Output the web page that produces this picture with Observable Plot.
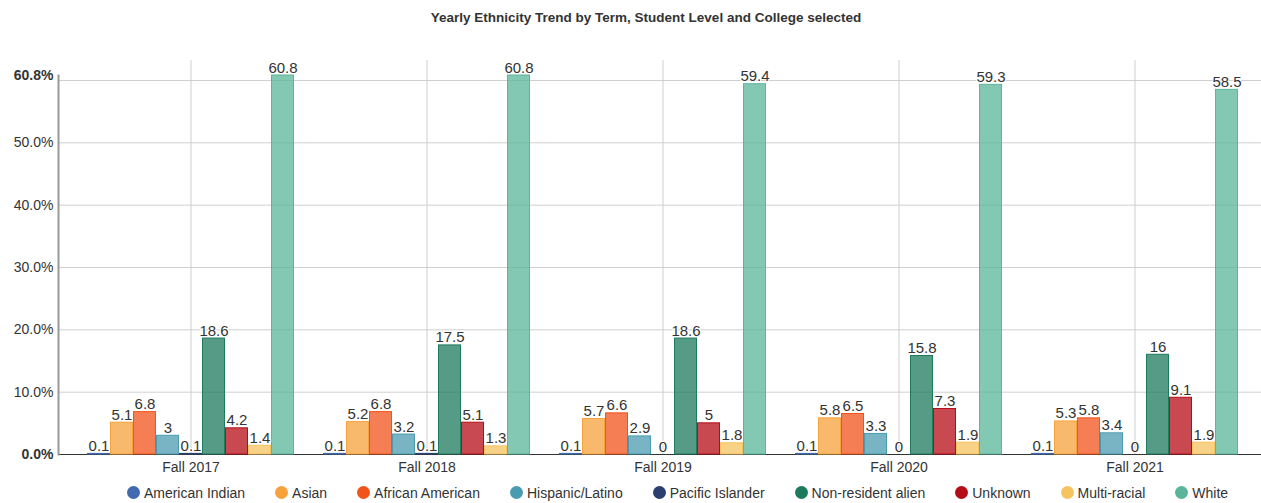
<!DOCTYPE html>
<html>
<head>
<meta charset="utf-8">
<script src="https://cdn.jsdelivr.net/npm/d3@7"></script>
<script src="https://cdn.jsdelivr.net/npm/@observablehq/plot@0.6"></script>
<style>
  body { margin: 0; background: #fff; font-family: "Liberation Sans", Arial, sans-serif; overflow: hidden; }
  #title { height: 36px; line-height: 36px; text-align: center; padding-left: 31px; font-size: 13.5px; font-weight: bold; color: #333; }
  #chart { position: relative; width: 1261px; height: 446px; }
  #chart svg { position: absolute; left: 0; top: 0; }
  #legend { display: flex; justify-content: center; align-items: center; height: 21px; padding-left: 94px; font-size: 14px; color: #333; gap: 30px; }
  .item { display: flex; align-items: center; gap: 4px; white-space: nowrap; }
  .sw { width: 13px; height: 13px; border-radius: 50%; }
</style>
</head>
<body>
<div id="title">Yearly Ethnicity Trend by Term, Student Level and College selected</div>
<div id="chart"></div>
<div id="legend"></div>
<script>
// Terms on the x axis and the ethnic groups inside each term
const terms = ["Fall 2017", "Fall 2018", "Fall 2019", "Fall 2020", "Fall 2021"];
const ethnicities = ["American Indian", "Asian", "African American", "Hispanic/Latino", "Pacific Islander",
                     "Non-resident alien", "Unknown", "Multi-racial", "White"];
const colors = ["#4169b0", "#f7a23b", "#f2531b", "#4b9bb0", "#2b3f6f", "#1d7a5d", "#b50d16", "#f5c35f", "#5ab59a"];

// Share of students (%) per term, one array per group
const americanIndian   = [0.1, 0.1, 0.1, 0.1, 0.1];
const asian            = [5.1, 5.2, 5.7, 5.8, 5.3];
const africanAmerican  = [6.8, 6.8, 6.6, 6.5, 5.8];
const hispanicLatino   = [3, 3.2, 2.9, 3.3, 3.4];
const pacificIslander  = [0.1, 0.1, 0, 0, 0];
const nonResidentAlien = [18.6, 17.5, 18.6, 15.8, 16];
const unknown          = [4.2, 5.1, 5, 7.3, 9.1];
const multiRacial      = [1.4, 1.3, 1.8, 1.9, 1.9];
const white            = [60.8, 60.8, 59.4, 59.3, 58.5];

// Y axis: gridlines every 10%, labels with the maximum on top
const gridTicks = [0, 10, 20, 30, 40, 50, 60];
const yMax = 60.8;
const yLabelsRegular = [10, 20, 30, 40, 50];
const yLabelsBold = [0, 60.8];

const series = [americanIndian, asian, africanAmerican, hispanicLatino, pacificIslander,
                nonResidentAlien, unknown, multiRacial, white];
const rows = [];
terms.forEach((term, i) => {
  ethnicities.forEach((eth, j) => rows.push({term, eth, value: series[j][i]}));
});

const font = '"Liberation Sans", Arial, sans-serif';
const common = {
  width: 1261, height: 446,
  marginLeft: 58, marginRight: 0, marginTop: 39, marginBottom: 28,
  y: {domain: [0, yMax], axis: null}
};
const pct = d => d.toFixed(1) + "%";

// Background layer: horizontal grid and the value axis, spanning the full plot width
const back = Plot.plot({
  ...common,
  style: {fontFamily: font, fontSize: "14px", color: "#333", background: "white"},
  marks: [
    Plot.gridY(gridTicks, {stroke: "#cfcfcf", strokeOpacity: 1}),
    Plot.axisY(yLabelsRegular, {tickSize: 0, tickPadding: 5, tickFormat: pct, fontSize: 14, fill: "#333", label: null}),
    Plot.axisY(yLabelsBold, {tickSize: 0, tickPadding: 5, tickFormat: pct, fontSize: 14, fill: "#333", fontWeight: "bold", label: null}),
    Plot.ruleY([0], {stroke: "#333", strokeWidth: 1}),
    Plot.frame({anchor: "left", stroke: "#999", strokeWidth: 2})
  ]
});

// Foreground layer: one facet per term, grouped bars with value labels
const front = Plot.plot({
  ...common,
  fx: {domain: terms, paddingInner: 0.0886, paddingOuter: 0.0825, align: 0.56, label: null, axis: null},
  x: {domain: ethnicities, padding: 0, axis: null},
  color: {domain: ethnicities, range: colors},
  style: {fontFamily: font, fontSize: "14px", background: "transparent"},
  marks: [
    Plot.gridFx({stroke: "#cfcfcf", strokeOpacity: 1, insetTop: -15}),
    Plot.axisFx({anchor: "bottom", tickSize: 0, tickPadding: 8, fontSize: 14, fill: "#333", label: null}),
    Plot.barY(rows, {fx: "term", x: "eth", y: "value", fill: "eth", fillOpacity: 0.75,
                     stroke: "eth", strokeWidth: 1, insetLeft: 0.5, insetRight: 0.5}),
    Plot.text(rows, {fx: "term", x: "eth", y: "value", text: d => String(d.value),
                     lineAnchor: "bottom", dy: -3, fontSize: 15, fill: "#333",
                     stroke: "white", strokeWidth: 2})
  ]
});

const chart = document.getElementById("chart");
chart.append(back, front);

// Legend
const legend = document.getElementById("legend");
ethnicities.forEach((eth, j) => {
  const item = document.createElement("div");
  item.className = "item";
  const sw = document.createElement("span");
  sw.className = "sw";
  sw.style.background = colors[j];
  const label = document.createElement("span");
  label.textContent = eth;
  item.append(sw, label);
  legend.append(item);
});
</script>
</body>
</html>
